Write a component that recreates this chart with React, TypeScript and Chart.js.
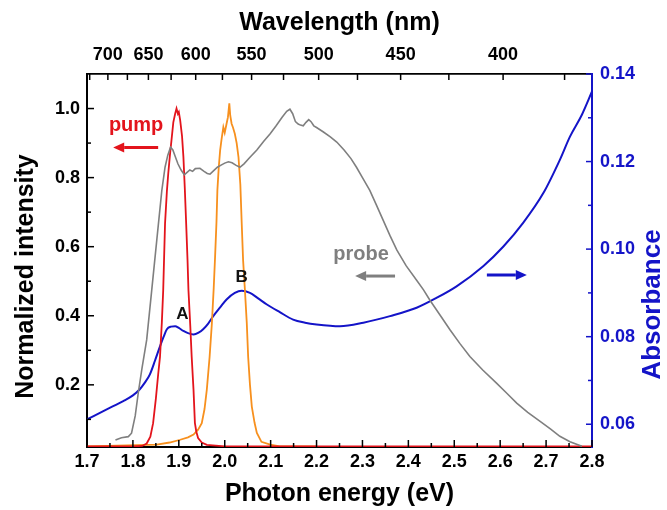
import React, { useEffect, useRef } from "react";
import { Chart, registerables } from "chart.js";

Chart.register(...registerables);

// ---------- data ----------
const probeEnergy = [1.762, 1.775, 1.79, 1.797, 1.805, 1.812, 1.82, 1.83, 1.841, 1.852, 1.863, 1.87, 1.876, 1.882, 1.887, 1.892, 1.898, 1.905, 1.912, 1.918, 1.924, 1.93, 1.936, 1.946, 1.955, 1.962, 1.968, 1.976, 1.984, 1.992, 2.0, 2.008, 2.016, 2.024, 2.033, 2.042, 2.055, 2.07, 2.085, 2.099, 2.112, 2.125, 2.135, 2.142, 2.148, 2.154, 2.16, 2.165, 2.171, 2.177, 2.183, 2.188, 2.194, 2.2, 2.215, 2.23, 2.244, 2.26, 2.275, 2.287, 2.3, 2.316, 2.33, 2.345, 2.36, 2.375, 2.395, 2.418, 2.433, 2.447, 2.47, 2.491, 2.512, 2.534, 2.562, 2.592, 2.615, 2.636, 2.66, 2.687, 2.71, 2.73, 2.752, 2.778];
const probeIntensity = [0.04, 0.047, 0.05, 0.06, 0.11, 0.18, 0.25, 0.33, 0.474, 0.619, 0.763, 0.83, 0.865, 0.888, 0.88, 0.862, 0.84, 0.822, 0.808, 0.815, 0.822, 0.818, 0.826, 0.827, 0.818, 0.812, 0.81, 0.82, 0.83, 0.836, 0.842, 0.846, 0.843, 0.836, 0.83, 0.84, 0.859, 0.88, 0.905, 0.927, 0.95, 0.975, 0.992, 0.998, 0.985, 0.962, 0.955, 0.952, 0.95, 0.96, 0.968, 0.962, 0.95, 0.945, 0.932, 0.918, 0.903, 0.88, 0.855, 0.83, 0.8, 0.763, 0.722, 0.677, 0.632, 0.59, 0.545, 0.503, 0.475, 0.445, 0.4, 0.359, 0.32, 0.282, 0.243, 0.205, 0.175, 0.147, 0.12, 0.094, 0.072, 0.051, 0.035, 0.022];

const pumpAEnergy = [1.7, 1.8, 1.82, 1.83, 1.838, 1.844, 1.85, 1.855, 1.859, 1.863, 1.866, 1.87, 1.874, 1.877, 1.881, 1.884, 1.888, 1.892, 1.895, 1.898, 1.9, 1.903, 1.907, 1.91, 1.913, 1.916, 1.919, 1.921, 1.925, 1.928, 1.932, 1.935, 1.938, 1.942, 1.95, 1.961, 2.0, 2.8];
const pumpAIntensity = [0.022, 0.022, 0.023, 0.03, 0.05, 0.089, 0.16, 0.23, 0.281, 0.38, 0.474, 0.667, 0.76, 0.812, 0.87, 0.908, 0.96, 0.985, 1.0, 0.985, 0.99, 0.966, 0.92, 0.86, 0.77, 0.667, 0.56, 0.474, 0.37, 0.282, 0.186, 0.09, 0.065, 0.046, 0.033, 0.026, 0.022, 0.022];

const pumpBEnergy = [1.7, 1.852, 1.88, 1.903, 1.92, 1.932, 1.942, 1.95, 1.956, 1.961, 1.967, 1.972, 1.976, 1.979, 1.982, 1.984, 1.987, 1.99, 1.993, 1.997, 2.0, 2.004, 2.007, 2.01, 2.012, 2.015, 2.018, 2.022, 2.026, 2.03, 2.034, 2.037, 2.04, 2.044, 2.048, 2.051, 2.055, 2.059, 2.065, 2.07, 2.08, 2.099, 2.12, 2.2];
const pumpBIntensity = [0.022, 0.027, 0.033, 0.041, 0.048, 0.056, 0.07, 0.089, 0.13, 0.186, 0.28, 0.378, 0.48, 0.571, 0.67, 0.763, 0.83, 0.879, 0.91, 0.946, 0.93, 0.956, 0.975, 1.015, 0.98, 0.956, 0.945, 0.927, 0.9, 0.859, 0.78, 0.668, 0.561, 0.474, 0.38, 0.282, 0.2, 0.137, 0.09, 0.061, 0.035, 0.027, 0.022, 0.022];

const absEnergy = [1.7, 1.743, 1.779, 1.8, 1.815, 1.826, 1.837, 1.848, 1.859, 1.867, 1.874, 1.883, 1.892, 1.9, 1.91, 1.92, 1.932, 1.943, 1.953, 1.964, 1.975, 1.99, 2.004, 2.022, 2.037, 2.055, 2.072, 2.091, 2.12, 2.149, 2.175, 2.2, 2.251, 2.302, 2.36, 2.418, 2.462, 2.505, 2.563, 2.607, 2.65, 2.694, 2.73, 2.752, 2.778, 2.8];
const absorbance = [0.0611, 0.0634, 0.0653, 0.0666, 0.068, 0.0695, 0.0714, 0.0745, 0.0778, 0.08, 0.0817, 0.0823, 0.0824, 0.082, 0.0813, 0.0808, 0.0805, 0.0809, 0.0817, 0.083, 0.0847, 0.0867, 0.0885, 0.09, 0.0905, 0.09, 0.0888, 0.0874, 0.0856, 0.0839, 0.0832, 0.0828, 0.0824, 0.0832, 0.0847, 0.0866, 0.0889, 0.0915, 0.0961, 0.1006, 0.106, 0.1128, 0.1204, 0.1257, 0.1307, 0.136];

// ---------- ticks ----------
const energyTicks = [1.7, 1.75, 1.8, 1.85, 1.9, 1.95, 2.0, 2.05, 2.1, 2.15, 2.2, 2.25, 2.3, 2.35, 2.4, 2.45, 2.5, 2.55, 2.6, 2.65, 2.7, 2.75, 2.8];
const energyLabels = [1.7, 1.8, 1.9, 2.0, 2.1, 2.2, 2.3, 2.4, 2.5, 2.6, 2.7, 2.8];
const wavelengthTicks = [725, 700, 675, 650, 625, 600, 575, 550, 525, 500, 475, 450, 425, 400, 375];
const wavelengthLabels = [700, 650, 600, 550, 500, 450, 400];
const intensityTicks = [0.1, 0.2, 0.3, 0.4, 0.5, 0.6, 0.7, 0.8, 0.9, 1.0];
const intensityLabels = [0.2, 0.4, 0.6, 0.8, 1.0];
const absTicks = [0.06, 0.07, 0.08, 0.09, 0.1, 0.11, 0.12, 0.13, 0.14];
const absLabels = [0.06, 0.08, 0.1, 0.12, 0.14];

// top axis expressed as 1e6 / wavelength
const topMin = 1372;
const topMax = 2741;

const FONT = "'Liberation Sans', Arial, Helvetica, sans-serif";
const BLUE = "#1414c8";
const RED = "#e3141c";
const ORANGE = "#f7901e";
const GRAY = "#7f7f7f";

const has = (list: number[], v: number) => list.some((t) => Math.abs(t - v) < 1e-6);
const pts = (xs: number[], ys: number[]) => xs.map((x, i) => ({ x, y: ys[i] }));

const inwardTicks = {
  id: "inwardTicks",
  afterDatasetsDraw(chart: any) {
    const { ctx, chartArea: a, scales } = chart;
    ctx.save();
    ctx.lineWidth = 1.5;
    ctx.strokeStyle = "#000";
    const seg = (x1: number, y1: number, x2: number, y2: number) => {
      ctx.beginPath();
      ctx.moveTo(x1, y1);
      ctx.lineTo(x2, y2);
      ctx.stroke();
    };
    for (const v of energyTicks) {
      const p = scales.x.getPixelForValue(v);
      seg(p, a.bottom, p, a.bottom - (has(energyLabels, v) ? 7 : 4));
    }
    for (const w of wavelengthTicks) {
      const p = scales.xTop.getPixelForValue(1e6 / w);
      seg(p, a.top, p, a.top + 6);
    }
    for (const v of intensityTicks) {
      const p = scales.y.getPixelForValue(v);
      seg(a.left, p, a.left + (has(intensityLabels, v) ? 7 : 4), p);
    }
    ctx.strokeStyle = BLUE;
    for (const v of absTicks) {
      const p = scales.yAbs.getPixelForValue(v);
      seg(a.right, p, a.right - (has(absLabels, v) ? 6 : 4), p);
    }
    ctx.restore();
  },
};

const arrow = (ctx: any, x1: number, x2: number, y: number, color: string) => {
  const dir = Math.sign(x2 - x1);
  const head = 11;
  ctx.strokeStyle = color;
  ctx.fillStyle = color;
  ctx.lineWidth = 3;
  ctx.beginPath();
  ctx.moveTo(x1, y);
  ctx.lineTo(x2 - dir * head, y);
  ctx.stroke();
  ctx.beginPath();
  ctx.moveTo(x2, y);
  ctx.lineTo(x2 - dir * head, y - 5);
  ctx.lineTo(x2 - dir * head, y + 5);
  ctx.closePath();
  ctx.fill();
};

const annotations = {
  id: "annotations",
  afterDraw(chart: any) {
    const { ctx, chartArea: a, scales } = chart;
    const X = (v: number) => scales.x.getPixelForValue(v);
    const Y = (v: number) => scales.y.getPixelForValue(v);
    ctx.save();
    ctx.textAlign = "center";
    ctx.textBaseline = "middle";
    ctx.font = `bold 20px ${FONT}`;
    ctx.fillStyle = RED;
    ctx.fillText("pump", X(1.807), Y(0.951));
    ctx.fillStyle = GRAY;
    ctx.fillText("probe", X(2.297), Y(0.578));
    ctx.font = `bold 17px ${FONT}`;
    ctx.fillStyle = "#111";
    ctx.fillText("A", X(1.908), Y(0.405));
    ctx.fillText("B", X(2.037), Y(0.512));
    arrow(ctx, X(1.855), X(1.757), Y(0.887), RED);
    arrow(ctx, X(2.371), X(2.284), Y(0.515), GRAY);
    arrow(ctx, X(2.571), X(2.658), Y(0.518), BLUE);

    // vertical axis titles
    ctx.font = `bold 25px ${FONT}`;
    ctx.fillStyle = "#000";
    ctx.save();
    ctx.translate(a.left - 61, (a.top + a.bottom) / 2 + 16);
    ctx.rotate(-Math.PI / 2);
    ctx.fillText("Normalized intensity", 0, 0);
    ctx.restore();
    ctx.font = `bold 26px ${FONT}`;
    ctx.fillStyle = BLUE;
    ctx.save();
    ctx.translate(a.right + 61, (a.top + a.bottom) / 2 + 44);
    ctx.rotate(-Math.PI / 2);
    ctx.fillText("Absorbance", 0, 0);
    ctx.restore();
    ctx.restore();
  },
};

export default function App() {
  const ref = useRef<HTMLCanvasElement | null>(null);
  useEffect(() => {
    if (!ref.current) return;
    const tickFont = { family: FONT, size: 18, weight: "bold" as const };
    const titleFont = { family: FONT, size: 25, weight: "bold" as const };
    const chart = new Chart(ref.current, {
      type: "scatter",
      data: {
        datasets: [
          { label: "probe", data: pts(probeEnergy, probeIntensity), borderColor: GRAY, borderWidth: 1.6, showLine: true, pointRadius: 0, yAxisID: "y", xAxisID: "x" },
          { label: "pump A", data: pts(pumpAEnergy, pumpAIntensity), borderColor: RED, borderWidth: 1.8, showLine: true, pointRadius: 0, yAxisID: "y", xAxisID: "x" },
          { label: "pump B", data: pts(pumpBEnergy, pumpBIntensity), borderColor: ORANGE, borderWidth: 1.8, showLine: true, pointRadius: 0, yAxisID: "y", xAxisID: "x" },
          { label: "absorbance", data: pts(absEnergy, absorbance), borderColor: BLUE, borderWidth: 2, showLine: true, pointRadius: 0, cubicInterpolationMode: "monotone", yAxisID: "yAbs", xAxisID: "x" },
        ],
      },
      options: {
        responsive: false,
        animation: false,
        devicePixelRatio: 1,
        layout: { padding: 0 },
        plugins: { legend: { display: false }, tooltip: { enabled: false } },
        scales: {
          x: {
            type: "linear",
            position: "bottom",
            min: 1.7,
            max: 2.8,
            afterBuildTicks: (s: any) => { s.ticks = energyTicks.map((value) => ({ value })); },
            afterFit: (s: any) => { s.height = 63; },
            grid: { display: false, drawTicks: false },
            border: { color: "#000", width: 2 },
            ticks: { autoSkip: false, maxRotation: 0, padding: 4, color: "#000", font: tickFont, callback: (v: any) => (has(energyLabels, v) ? Number(v).toFixed(1) : "") },
            title: { display: true, text: "Photon energy (eV)", color: "#000", font: titleFont, padding: { top: 0, bottom: 1 } },
          },
          xTop: {
            type: "linear",
            axis: "x",
            position: "top",
            min: topMin,
            max: topMax,
            afterBuildTicks: (s: any) => { s.ticks = wavelengthTicks.map((w) => ({ value: 1e6 / w })); },
            afterFit: (s: any) => { s.height = 74; },
            grid: { display: false, drawTicks: false },
            border: { color: "#000", width: 1.8 },
            ticks: { autoSkip: false, maxRotation: 0, padding: 8, color: "#000", font: tickFont, callback: (v: any) => { const w = Math.round(1e6 / v); return has(wavelengthLabels, w) ? String(w) : ""; } },
            title: { display: true, text: "Wavelength (nm)", color: "#000", font: titleFont, padding: { top: 8, bottom: 0 } },
          },
          y: {
            type: "linear",
            position: "left",
            min: 0.02,
            max: 1.1,
            afterBuildTicks: (s: any) => { s.ticks = intensityTicks.map((value) => ({ value })); },
            afterFit: (s: any) => { s.width = 87; },
            grid: { display: false, drawTicks: false },
            border: { color: "#000", width: 2 },
            ticks: { autoSkip: false, padding: 7, color: "#000", font: tickFont, callback: (v: any) => (has(intensityLabels, v) ? Number(v).toFixed(1) : "") },
          },
          yAbs: {
            type: "linear",
            position: "right",
            min: 0.0548,
            max: 0.14,
            afterBuildTicks: (s: any) => { s.ticks = absTicks.map((value) => ({ value })); },
            afterFit: (s: any) => { s.width = 75; },
            grid: { display: false, drawTicks: false },
            border: { color: BLUE, width: 2 },
            ticks: { autoSkip: false, padding: 8, color: BLUE, font: tickFont, callback: (v: any) => (has(absLabels, v) ? Number(v).toFixed(2) : "") },
          },
        },
      },
      plugins: [inwardTicks, annotations],
    });
    return () => chart.destroy();
  }, []);
  return (
    <div style={{ position: "fixed", left: 0, top: 0, width: 667, height: 510, background: "#fff" }}>
      <canvas ref={ref} width={667} height={510} style={{ display: "block" }} />
    </div>
  );
}
